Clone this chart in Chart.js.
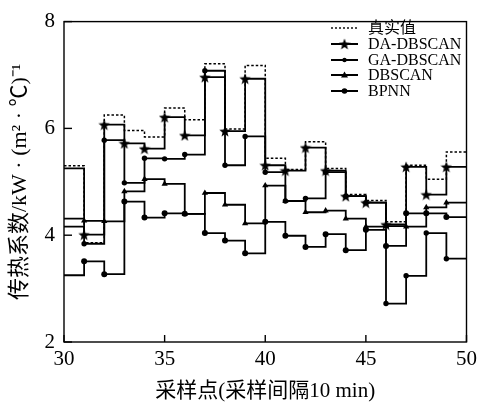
<!DOCTYPE html>
<html>
<head>
<meta charset="utf-8">
<script src="https://cdn.jsdelivr.net/npm/chart.js@4.4.1/dist/chart.umd.min.js"></script>
<style>
  html, body { margin: 0; padding: 0; background: #fff; }
</style>
</head>
<body>
<canvas id="chart" width="482" height="406"></canvas>
<script>
// sampling points (x) and series values
const samplePoints = [30, 31, 32, 33, 34, 35, 36, 37, 38, 39, 40, 41, 42, 43, 44, 45, 46, 47, 48, 49, 50];
const realValues = [5.30, 3.86, 6.25, 5.96, 5.84, 6.38, 6.16, 7.21, 5.99, 7.18, 5.44, 5.23, 5.75, 5.25, 4.76, 4.65, 4.25, 5.31, 5.05, 5.56, 5.56];
const daDbscan   = [5.25, 4.01, 6.07, 5.72, 5.62, 6.21, 5.87, 6.96, 5.95, 6.93, 5.31, 5.21, 5.64, 5.21, 4.73, 4.61, 4.20, 5.28, 4.76, 5.28, 5.28];
const gaDbscan   = [4.16, 3.84, 5.78, 4.98, 5.44, 5.43, 5.51, 7.08, 5.31, 5.85, 5.18, 4.64, 4.69, 5.18, 4.73, 4.61, 2.72, 3.24, 4.04, 3.56, 3.56];
const dbscan     = [4.31, 4.27, 4.26, 4.82, 5.05, 4.96, 4.40, 4.79, 4.57, 4.22, 4.93, 4.64, 4.43, 4.46, 4.31, 4.16, 4.17, 4.16, 4.52, 4.61, 4.61];
const bpnn       = [3.25, 3.51, 3.27, 4.63, 4.33, 4.41, 4.40, 4.04, 3.90, 3.66, 4.25, 3.99, 3.78, 4.02, 3.72, 4.10, 3.80, 4.41, 4.41, 4.34, 4.34];
const xTicks = [30, 35, 40, 45, 50];
const yTicks = [2, 4, 6, 8];

const serif = '"Liberation Serif", "Noto Sans CJK SC", serif';

// filled five point star used as a marker
function makeStar(size) {
  const c = document.createElement('canvas');
  c.width = size; c.height = size;
  const g = c.getContext('2d');
  g.beginPath();
  for (let i = 0; i < 10; i++) {
    const r = i % 2 ? size * 0.21 : size * 0.5;
    const a = -Math.PI / 2 + i * Math.PI / 5;
    const px = size / 2 + r * Math.cos(a), py = size / 2 + 0.6 + r * Math.sin(a);
    if (i === 0) g.moveTo(px, py); else g.lineTo(px, py);
  }
  g.closePath();
  g.fillStyle = '#000';
  g.fill();
  return c;
}
const star = makeStar(12);

function pts(vals) {
  return samplePoints.map((x, i) => ({ x: x, y: vals[i] }));
}
// no marker on the two frame edges
function radii(r) {
  return samplePoints.map((x, i) => (i === 0 || i === samplePoints.length - 1) ? 0 : r);
}

const datasets = [
  { label: '真实值', data: pts(realValues), borderDash: [2.5, 2], borderWidth: 1.5, pointRadius: 0 },
  { label: 'DA-DBSCAN', data: pts(daDbscan), pointStyle: star, pointRadius: radii(4) },
  { label: 'GA-DBSCAN', data: pts(gaDbscan), pointStyle: 'circle', pointRadius: radii(2.7) },
  { label: 'DBSCAN', data: pts(dbscan), pointStyle: 'triangle', pointRadius: radii(3.6) },
  { label: 'BPNN', data: pts(bpnn), pointStyle: 'circle', pointRadius: radii(3) }
].map(d => Object.assign({
  stepped: true,
  borderColor: '#000',
  backgroundColor: '#000',
  pointBackgroundColor: '#000',
  pointBorderColor: '#000',
  pointBorderWidth: 0,
  borderWidth: 1.8,
  fill: false
}, d));

// frame, inward ticks and the legend inside the plot
const framePlugin = {
  id: 'frame',
  afterDraw(chart) {
    const { ctx, chartArea: a, scales } = chart;
    ctx.save();
    ctx.strokeStyle = '#000';
    ctx.lineWidth = 1.4;
    ctx.strokeRect(a.left, a.top, a.width, a.height);
    xTicks.forEach(v => {
      const px = scales.x.getPixelForValue(v);
      ctx.beginPath(); ctx.moveTo(px, a.bottom); ctx.lineTo(px, a.bottom - 7); ctx.stroke();
    });
    yTicks.forEach(v => {
      const py = scales.y.getPixelForValue(v);
      ctx.beginPath(); ctx.moveTo(a.left, py); ctx.lineTo(a.left + 8, py); ctx.stroke();
    });

    // legend
    const lx0 = 331, lx1 = 358, tx = 368;
    const rows = [28, 44, 60, 75, 91];
    ctx.font = '16px ' + serif;
    ctx.fillStyle = '#000';
    ctx.textBaseline = 'middle';
    chart.data.datasets.forEach((ds, i) => {
      const y = rows[i];
      ctx.save();
      ctx.lineWidth = i === 0 ? 1.4 : 2;
      ctx.setLineDash(i === 0 ? [2, 2] : []);
      ctx.beginPath(); ctx.moveTo(lx0, y); ctx.lineTo(lx1, y); ctx.stroke();
      ctx.restore();
      const mx = (lx0 + lx1) / 2;
      if (ds.pointStyle === star) {
        ctx.drawImage(star, mx - star.width / 2, y - star.height / 2);
      } else if (ds.pointStyle === 'triangle') {
        ctx.beginPath(); ctx.moveTo(mx, y - 3.5); ctx.lineTo(mx + 3.5, y + 2.5); ctx.lineTo(mx - 3.5, y + 2.5); ctx.closePath(); ctx.fill();
      } else if (ds.pointStyle === 'circle') {
        ctx.beginPath(); ctx.arc(mx, y, i === 2 ? 2.2 : 2.8, 0, Math.PI * 2); ctx.fill();
      }
      ctx.fillText(ds.label, tx, y + 1);
    });
    ctx.restore();
  }
};

new Chart(document.getElementById('chart'), {
  type: 'line',
  data: { datasets: datasets },
  options: {
    responsive: false,
    animation: false,
    layout: { padding: { top: 12, right: 13, left: 0, bottom: 0 } },
    plugins: { legend: { display: false }, tooltip: { enabled: false } },
    scales: {
      x: {
        type: 'linear',
        min: 30, max: 50,
        border: { display: false },
        grid: { display: false, drawTicks: false },
        ticks: { stepSize: 5, color: '#000', padding: 5, font: { family: serif, size: 21 } },
        title: { display: true, text: '采样点(采样间隔10 min)', color: '#000', padding: { top: 0, bottom: 2 }, font: { family: serif, size: 21 } },
        afterFit(s) { s.height = 64; }
      },
      y: {
        min: 2, max: 8,
        border: { display: false },
        grid: { display: false, drawTicks: false },
        ticks: { stepSize: 2, color: '#000', padding: 9, font: { family: serif, size: 21 } },
        title: { display: true, text: '传热系数/kW · (m² · ℃)⁻¹', color: '#000', padding: { top: 7, bottom: 0 }, font: { family: serif, size: 22 } },
        afterFit(s) { s.width = 64; }
      }
    }
  },
  plugins: [framePlugin]
});
</script>
</body>
</html>
